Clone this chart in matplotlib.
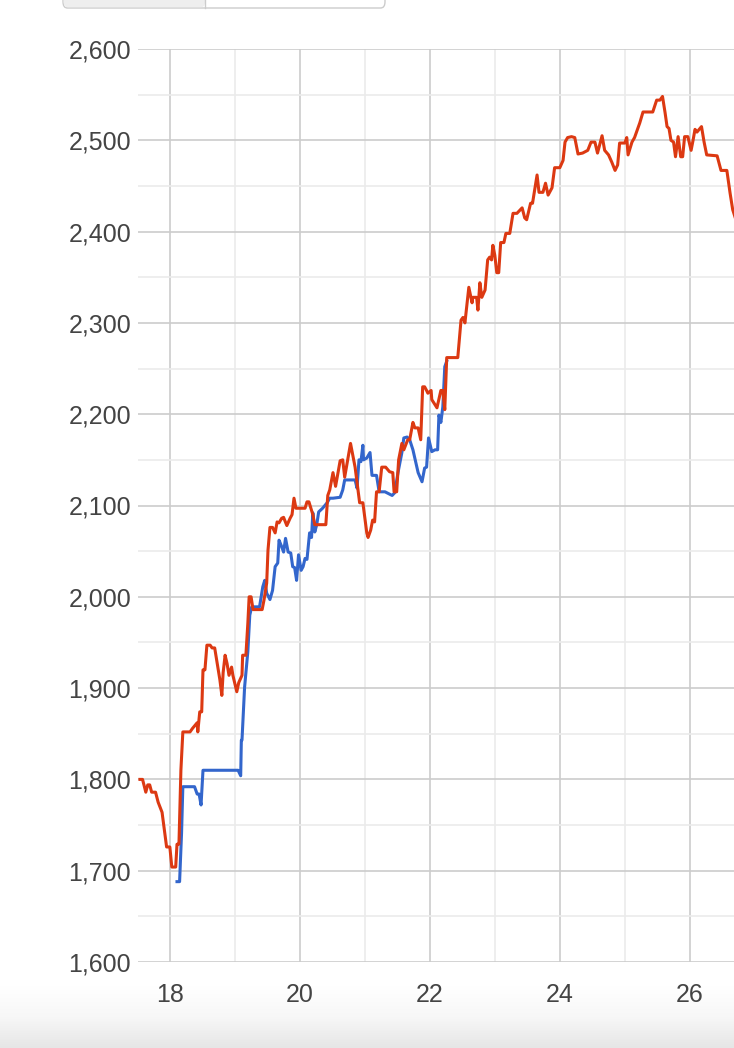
import matplotlib
matplotlib.use("Agg")
import matplotlib.pyplot as plt
import numpy as np
from matplotlib.patches import FancyBboxPatch
from matplotlib.ticker import MultipleLocator, FuncFormatter

plt.rcParams['font.family'] = ['Liberation Sans', 'DejaVu Sans']

# Red series
red_x = [17.54, 17.58, 17.63, 17.66, 17.69, 17.72, 17.78, 17.82, 17.88, 17.91,
         17.95, 18.00, 18.03, 18.09, 18.11, 18.14, 18.17, 18.20, 18.31, 18.35,
         18.42, 18.43, 18.46, 18.49, 18.51, 18.54, 18.57, 18.62, 18.65, 18.69,
         18.74, 18.77, 18.80, 18.82, 18.85, 18.88, 18.91, 18.95, 18.97, 19.03,
         19.06, 19.11, 19.12, 19.17, 19.20, 19.22, 19.25, 19.28, 19.42, 19.45,
         19.49, 19.51, 19.54, 19.58, 19.62, 19.65, 19.68, 19.72, 19.75, 19.80,
         19.85, 19.88, 19.91, 19.94, 20.08, 20.11, 20.14, 20.20, 20.23, 20.40,
         20.43, 20.46, 20.51, 20.55, 20.62, 20.66, 20.69, 20.78, 20.85, 20.92,
         20.97, 21.03, 21.05, 21.09, 21.12, 21.15, 21.18, 21.22, 21.26, 21.32,
         21.38, 21.43, 21.45, 21.49, 21.52, 21.57, 21.60, 21.66, 21.69, 21.74,
         21.77, 21.82, 21.86, 21.89, 21.92, 21.95, 21.97, 22.02, 22.03, 22.11,
         22.17, 22.20, 22.23, 22.26, 22.43, 22.48, 22.51, 22.54, 22.60, 22.65,
         22.66, 22.72, 22.74, 22.77, 22.80, 22.85, 22.89, 22.92, 22.95, 22.97,
         23.00, 23.03, 23.06, 23.09, 23.14, 23.17, 23.23, 23.28, 23.34, 23.42,
         23.46, 23.49, 23.55, 23.58, 23.65, 23.68, 23.74, 23.78, 23.82, 23.88,
         23.92, 24.00, 24.05, 24.08, 24.12, 24.18, 24.23, 24.28, 24.35, 24.43,
         24.48, 24.54, 24.58, 24.65, 24.69, 24.75, 24.80, 24.85, 24.89, 24.92,
         25.00, 25.03, 25.05, 25.11, 25.15, 25.20, 25.23, 25.28, 25.43, 25.49,
         25.54, 25.58, 25.62, 25.65, 25.68, 25.71, 25.75, 25.78, 25.82, 25.86,
         25.89, 25.92, 25.97, 26.02, 26.05, 26.08, 26.11, 26.18, 26.22, 26.26,
         26.42, 26.48, 26.57, 26.62, 26.66, 26.70]
red_y = [1800, 1800, 1786, 1794, 1794, 1786, 1786, 1775, 1764, 1748,
         1726, 1726, 1704, 1704, 1729, 1729, 1810, 1852, 1852, 1856,
         1862, 1852, 1874, 1874, 1920, 1920, 1947, 1947, 1944, 1944,
         1922, 1909, 1892, 1917, 1936, 1927, 1914, 1923, 1914, 1896,
         1906, 1914, 1936, 1936, 1971, 2000, 2000, 1986, 1986, 1997,
         2015, 2051, 2076, 2076, 2070, 2082, 2081, 2086, 2087, 2078,
         2086, 2090, 2108, 2097, 2097, 2104, 2104, 2090, 2079, 2079,
         2111, 2117, 2136, 2121, 2149, 2150, 2131, 2168, 2142, 2103,
         2103, 2070, 2065, 2073, 2084, 2082, 2115, 2115, 2142, 2142,
         2137, 2136, 2115, 2115, 2150, 2168, 2161, 2172, 2172, 2191,
         2185, 2185, 2172, 2230, 2230, 2226, 2223, 2226, 2216, 2207,
         2226, 2226, 2205, 2262, 2262, 2303, 2306, 2300, 2339, 2322,
         2328, 2328, 2314, 2344, 2328, 2336, 2369, 2372, 2369, 2385,
         2374, 2355, 2355, 2388, 2388, 2398, 2398, 2420, 2420, 2426,
         2415, 2413, 2431, 2431, 2462, 2443, 2443, 2453, 2440, 2448,
         2470, 2470, 2478, 2498, 2503, 2504, 2503, 2485, 2486, 2489,
         2498, 2498, 2486, 2505, 2489, 2484, 2476, 2467, 2473, 2497,
         2497, 2503, 2484, 2498, 2503, 2513, 2519, 2531, 2531, 2544,
         2544, 2548, 2530, 2515, 2513, 2500, 2498, 2482, 2504, 2482,
         2482, 2504, 2504, 2489, 2500, 2512, 2509, 2515, 2498, 2484,
         2483, 2467, 2467, 2442, 2424, 2415]

# Blue series
blue_x = [18.11, 18.15, 18.18, 18.20, 18.38, 18.42, 18.45, 18.48, 18.51, 19.05,
          19.09, 19.10, 19.11, 19.15, 19.20, 19.23, 19.26, 19.38, 19.43, 19.46,
          19.49, 19.54, 19.58, 19.62, 19.66, 19.68, 19.72, 19.75, 19.78, 19.82,
          19.86, 19.89, 19.92, 19.95, 19.98, 20.02, 20.05, 20.08, 20.11, 20.15,
          20.18, 20.20, 20.23, 20.26, 20.29, 20.35, 20.42, 20.46, 20.51, 20.62,
          20.66, 20.69, 20.85, 20.88, 20.91, 20.94, 20.97, 20.98, 21.03, 21.08,
          21.11, 21.18, 21.22, 21.31, 21.42, 21.46, 21.51, 21.57, 21.60, 21.65,
          21.69, 21.74, 21.82, 21.88, 21.92, 21.95, 21.98, 22.03, 22.08, 22.12,
          22.14, 22.17, 22.20, 22.23, 22.26]
blue_y = [1688, 1688, 1741, 1792, 1792, 1784, 1784, 1772, 1810, 1810,
          1804, 1843, 1843, 1901, 1940, 1980, 1989, 1989, 2011, 2018,
          2004, 1997, 2007, 2033, 2037, 2062, 2055, 2049, 2064, 2049,
          2048, 2033, 2032, 2018, 2046, 2029, 2033, 2042, 2041, 2070,
          2065, 2092, 2071, 2079, 2093, 2097, 2103, 2108, 2108, 2109,
          2117, 2128, 2128, 2119, 2150, 2148, 2166, 2150, 2152, 2158,
          2133, 2133, 2115, 2115, 2111, 2114, 2136, 2158, 2174, 2175,
          2172, 2161, 2136, 2126, 2141, 2142, 2174, 2159, 2161, 2161,
          2199, 2191, 2208, 2252, 2258]

x_ticks = [18, 20, 22, 24, 26]
y_ticks = [1600, 1700, 1800, 1900, 2000, 2100, 2200, 2300, 2400, 2500, 2600]

W, H = 734, 1048
fig = plt.figure(figsize=(W / 100, H / 100), dpi=100)
fig.patch.set_facecolor('white')

# bottom gradient band
bg = fig.add_axes([0, 0, 1, 62 / H], zorder=0)
grad = np.linspace(0, 1, 100).reshape(-1, 1)
bg.imshow(grad, aspect='auto', cmap=matplotlib.colors.LinearSegmentedColormap.from_list(
    'g', ['#e6e6e6', '#f7f7f7', '#ffffff']), extent=[0, 1, 0, 1], origin='lower')
bg.set_axis_off()

# top button group (partially cut off)
bx0, bx1, bmid = 63 / W, 385 / W, 205 / W
btop, bbot = 1.02, 1 - 8 / H
r = FancyBboxPatch((bx0, bbot), bx1 - bx0, btop - bbot,
                   boxstyle="round,pad=0,rounding_size=0.006",
                   transform=fig.transFigure, facecolor='white',
                   edgecolor='#cccccc', linewidth=1.0, zorder=5)
fig.patches.append(r)
gr = FancyBboxPatch((bx0 + 0.001, bbot + 0.0008), bmid - bx0 - 0.001, btop - bbot,
                    boxstyle="round,pad=0,rounding_size=0.005",
                    transform=fig.transFigure, facecolor='#eeeeee',
                    edgecolor='none', zorder=6)
fig.patches.append(gr)
fig.add_artist(matplotlib.lines.Line2D([bmid, bmid], [bbot, 1], transform=fig.transFigure,
                                       color='#cccccc', linewidth=1.0, zorder=7))

left = 138 / W
bottom = 1 - 962 / H
top = 1 - 49 / H
ax = fig.add_axes([left, bottom, 1 - left, top - bottom], zorder=2)
ax.set_facecolor('none')

ax.plot(blue_x, blue_y, color='#3366cc', linewidth=2.2, zorder=3, solid_joinstyle='round')
ax.plot(red_x, red_y, color='#dc3912', linewidth=2.2, zorder=4, solid_joinstyle='round')

ax.set_xlim(17.51, 26.68)
ax.set_ylim(1600, 2600)
ax.set_xticks(x_ticks)
ax.set_yticks(y_ticks)
ax.xaxis.set_minor_locator(MultipleLocator(1))
ax.yaxis.set_minor_locator(MultipleLocator(50))
ax.yaxis.set_major_formatter(FuncFormatter(lambda v, p: f"{int(v):,}"))
ax.grid(which='major', color='#cccccc', linewidth=1.2, zorder=1)
ax.grid(which='minor', color='#ebebeb', linewidth=1.2, zorder=0.5)
ax.set_axisbelow(True)
for s in ax.spines.values():
    s.set_visible(False)
ax.tick_params(which='both', length=0)
ax.tick_params(axis='y', labelsize=18, labelcolor='#444444', pad=5)
ax.tick_params(axis='x', labelsize=18, labelcolor='#444444', pad=15)

fig.savefig('out.png', dpi=100, facecolor='white')
